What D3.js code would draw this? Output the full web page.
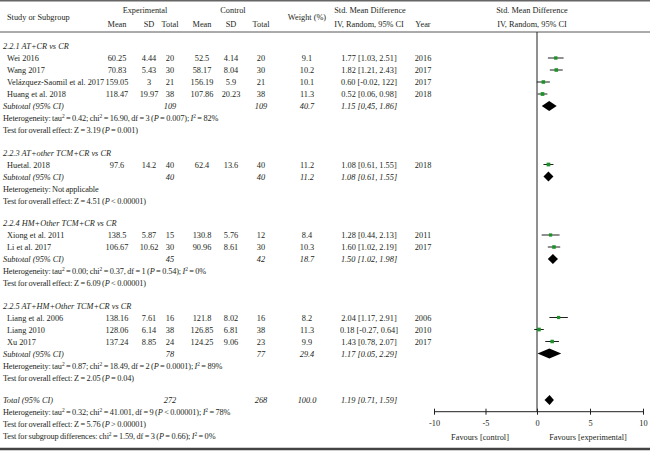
<!DOCTYPE html>
<html>
<head>
<meta charset="utf-8">
<script src="https://cdn.jsdelivr.net/npm/d3@7"></script>
<style>
  body { margin: 0; background: #fff; }
  svg text { font-family: "Liberation Serif", "DejaVu Serif", serif; fill: #231f20; }
</style>
</head>
<body>
<div id="chart"></div>
<script>
// Forest plot - std. mean difference, random effects, four subgroups

// ── Studies ────────────────────────────────────────────────
const studyNames = ["Wei 2016", "Wang 2017", "Velázquez-Saomil et al. 2017", "Huang et al. 2018",
                    "Huetal. 2018",
                    "Xiong et al. 2011", "Li et al. 2017",
                    "Liang et al. 2006", "Liang 2010", "Xu 2017"];
const studyGroup = [0, 0, 0, 0, 1, 2, 2, 3, 3, 3];
const expMean = [60.25, 70.83, 159.05, 118.47, 97.6, 138.5, 106.67, 138.16, 128.06, 137.24];
const expSD   = [4.44, 5.43, 3, 19.97, 14.2, 5.87, 10.62, 7.61, 6.14, 8.85];
const expN    = [20, 30, 21, 38, 40, 15, 30, 16, 38, 24];
const ctlMean = [52.5, 58.17, 156.19, 107.86, 62.4, 130.8, 90.96, 121.8, 126.85, 124.25];
const ctlSD   = [4.14, 8.04, 5.9, 20.23, 13.6, 5.76, 8.61, 8.02, 6.81, 9.06];
const ctlN    = [20, 30, 21, 38, 40, 12, 30, 16, 38, 23];
const weights = [9.1, 10.2, 10.1, 11.3, 11.2, 8.4, 10.3, 8.2, 11.3, 9.9];
const smd     = [1.77, 1.82, 0.60, 0.52, 1.08, 1.28, 1.60, 2.04, 0.18, 1.43];
const ciLo    = [1.03, 1.21, -0.02, 0.06, 0.61, 0.44, 1.02, 1.17, -0.27, 0.78];
const ciHi    = [2.51, 2.43, 1.22, 0.98, 1.55, 2.13, 2.19, 2.91, 0.64, 2.07];
const ciLabels = ["1.77 [1.03, 2.51]", "1.82 [1.21, 2.43]", "0.60 [-0.02, 122]", "0.52 [0.06, 0.98]",
                  "1.08 [0.61, 1.55]",
                  "1.28 [0.44, 2.13]", "1.60 [1.02, 2.19]",
                  "2.04 [1.17, 2.91]", "0.18 [-0.27, 0.64]", "1.43 [0.78, 2.07]"];
const years   = [2016, 2017, 2017, 2018, 2018, 2011, 2017, 2006, 2010, 2017];

// ── Subgroups ──────────────────────────────────────────────
const groupLabels = ["2.2.1 AT+CR vs CR", "2.2.3 AT+other TCM+CR vs CR",
                     "2.2.4 HM+Other TCM+CR vs CR", "2.2.5 AT+HM+Other TCM+CR vs CR"];
const subExpN   = [109, 40, 45, 78];
const subCtlN   = [109, 40, 42, 77];
const subWeight = [40.7, 11.2, 18.7, 29.4];
const subSmd    = [1.15, 1.08, 1.50, 1.17];
const subLo     = [0.45, 0.61, 1.02, 0.05];
const subHi     = [1.86, 1.55, 1.98, 2.29];
const subLabels = ["1.15 [0,45, 1.86]", "1.08 [0.61, 1.55]", "1.50 [1.02, 1.98]", "1.17 [0.05, 2.29]"];
const hetTexts  = ["Heterogeneity: tau^2 = 0.42; chi^2 = 16.90, df = 3 (P = 0.007); I^2 = 82%",
                   "Heterogeneity: Not applicable",
                   "Heterogeneity: tau^2 = 0.00; chi^2 = 0.37, df = 1 (P = 0.54); I^2 = 0%",
                   "Heterogeneity: tau^2 = 0.87; chi^2 = 18.49, df = 2 (P = 0.0001); I^2 = 89%"];
const testTexts = ["Test for overall effect: Z = 3.19 (P = 0.001)",
                   "Test for overall effect: Z = 4.51 (P < 0.00001)",
                   "Test for overall effect: Z = 6.09 (P < 0.00001)",
                   "Test for overall effect: Z = 2.05 (P = 0.04)"];

// ── Overall ────────────────────────────────────────────────
const totalExpN = 272, totalCtlN = 268, totalWeight = 100.0;
const totalSmd = 1.19, totalLo = 0.71, totalHi = 1.59;
const totalLabel = "1.19 [0.71, 1.59]";
const totalTexts = ["Heterogeneity: tau^2 = 0.32; chi^2 = 41.001, df = 9 (P < 0.00001); I^2 = 78%",
                    "Test for overall effect: Z = 5.76 (P > 0.00001)",
                    "Test for subgroup differences: chi^2 = 1.59, df = 3 (P = 0.66); I^2 = 0%"];

const axisTicks = [-10, -5, 0, 5, 10];

const width = 650, height = 451;
const FS = 8.3;
const col = { name: 7, stat: 3, expMean: 117, expSD: 149, expN: 170, ctlMean: 202, ctlSD: 231,
              ctlN: 261, weight: 307, ci: 369, year: 423 };

const svg = d3.select("#chart").append("svg")
  .attr("width", width).attr("height", height);

const x = d3.scaleLinear().domain([-10, 0, 10]).range([434, 537, 643]);

// text helper; rich=true turns ^2 into superscript and P / I into italics
function txt(xp, yp, s, opts = {}) {
  const t = svg.append("text")
    .attr("x", xp).attr("y", yp + 3)
    .attr("text-anchor", opts.anchor || "start")
    .style("font-size", FS + "px")
    .style("font-style", opts.italic ? "italic" : "normal");
  if (!opts.rich) { t.text(s); return t; }
  // stats lines are set a little tighter in the original
  t.style("word-spacing", "-0.45px").style("letter-spacing", "-0.12px");
  const parts = s.split(/(\^2|(?<![A-Za-z])[PI](?![A-Za-z]))/).filter(p => p !== "");
  let raised = false;
  parts.forEach(p => {
    const ts = t.append("tspan");
    if (p === "^2") {
      ts.text("2").attr("dy", -3).style("font-size", (FS * 0.65) + "px");
      raised = true;
      return;
    }
    if (raised) { ts.attr("dy", 3); raised = false; }
    if (p === "P" || p === "I") ts.style("font-style", "italic");
    ts.text(p);
  });
  return t;
}

// ── Header ─────────────────────────────────────────────────
svg.append("line").attr("x1", 0).attr("x2", width).attr("y1", 0.8).attr("y2", 0.8)
  .attr("stroke", "#666").attr("stroke-width", 1.6);
svg.append("line").attr("x1", 0).attr("x2", width).attr("y1", 32).attr("y2", 32)
  .attr("stroke", "#444").attr("stroke-width", 0.9);
svg.append("line").attr("x1", 0).attr("x2", width).attr("y1", 449).attr("y2", 449)
  .attr("stroke", "#444").attr("stroke-width", 2.4);

txt(col.name, 17, "Study or Subgroup");
txt(145, 10, "Experimental", { anchor: "middle" });
txt(233, 10, "Control", { anchor: "middle" });
[["Mean", col.expMean], ["SD", col.expSD], ["Total", col.expN],
 ["Mean", col.ctlMean], ["SD", col.ctlSD], ["Total", col.ctlN]]
  .forEach(([s, cx]) => txt(cx, 24, s, { anchor: "middle" }));
txt(col.weight, 17, "Weight (%)", { anchor: "middle" });
txt(370, 9.5, "Std. Mean Difference", { anchor: "middle" });
txt(369, 24, "IV, Random, 95% CI", { anchor: "middle" });
txt(col.year, 24, "Year", { anchor: "middle" });
txt(532, 9.5, "Std. Mean Difference", { anchor: "middle" });
txt(532, 24, "IV, Random, 95% CI", { anchor: "middle" });

// ── Rows ───────────────────────────────────────────────────
const step = 12, gap = 10.5;
let y = 46;

const zeroLine = svg.append("line")
  .attr("x1", x(0)).attr("x2", x(0)).attr("y1", 32)
  .attr("stroke", "#231f20").attr("stroke-width", 1);

function diamond(cy, est, lo, hi) {
  const h = 5;
  svg.append("path")
    .attr("d", `M${x(lo)},${cy} L${x(est)},${cy - h} L${x(hi)},${cy} L${x(est)},${cy + h} Z`)
    .attr("fill", "#000");
}

groupLabels.forEach((g, gi) => {
  txt(col.stat, y, g, { italic: true });
  y += step;
  studyNames.forEach((name, i) => {
    if (studyGroup[i] !== gi) return;
    txt(col.name, y, name);
    txt(col.expMean, y, String(expMean[i]), { anchor: "middle" });
    txt(col.expSD, y, String(expSD[i]), { anchor: "middle" });
    txt(col.expN, y, String(expN[i]), { anchor: "middle" });
    txt(col.ctlMean, y, String(ctlMean[i]), { anchor: "middle" });
    txt(col.ctlSD, y, String(ctlSD[i]), { anchor: "middle" });
    txt(col.ctlN, y, String(ctlN[i]), { anchor: "middle" });
    txt(col.weight, y, weights[i].toFixed(1), { anchor: "middle" });
    txt(col.ci, y, ciLabels[i], { anchor: "middle" });
    txt(col.year, y, String(years[i]), { anchor: "middle" });

    svg.append("line")
      .attr("x1", x(ciLo[i])).attr("x2", x(ciHi[i]))
      .attr("y1", y).attr("y2", y)
      .attr("stroke", "#231f20").attr("stroke-width", 1);
    const s = 1.8 + weights[i] * 0.17;
    svg.append("rect")
      .attr("x", x(smd[i]) - s / 2).attr("y", y - s / 2)
      .attr("width", s).attr("height", s)
      .attr("fill", "#1a9227");
    y += step;
  });
  txt(col.stat, y, "Subtotal (95% CI)", { italic: true });
  txt(col.expN, y, String(subExpN[gi]), { anchor: "middle", italic: true });
  txt(col.ctlN, y, String(subCtlN[gi]), { anchor: "middle", italic: true });
  txt(col.weight, y, subWeight[gi].toFixed(1), { anchor: "middle", italic: true });
  txt(col.ci, y, subLabels[gi], { anchor: "middle", italic: true });
  diamond(y, subSmd[gi], subLo[gi], subHi[gi]);
  y += step;
  txt(col.stat, y, hetTexts[gi], { rich: true });
  y += step;
  txt(col.stat, y, testTexts[gi], { rich: true });
  y += step + gap;
});

// ── Overall ────────────────────────────────────────────────
txt(col.stat, y, "Total (95% CI)", { italic: true });
txt(col.expN, y, String(totalExpN), { anchor: "middle", italic: true });
txt(col.ctlN, y, String(totalCtlN), { anchor: "middle", italic: true });
txt(col.weight, y, totalWeight.toFixed(1), { anchor: "middle", italic: true });
txt(col.ci, y, totalLabel, { anchor: "middle", italic: true });
diamond(y, totalSmd, totalLo, totalHi);
totalTexts.forEach(t => { y += step; txt(col.stat, y, t, { rich: true }); });

// ── Axis ───────────────────────────────────────────────────
const axisY = 411.7;
zeroLine.attr("y2", axisY);

const axisG = svg.append("g")
  .attr("transform", `translate(0,${axisY})`)
  .call(d3.axisBottom(x).tickValues(axisTicks).tickSize(3).tickPadding(5)
          .tickFormat(d3.format("d")));
axisG.select(".domain").attr("stroke", "#231f20").attr("d", `M${x(-10)},0H${x(10)}`);
axisG.selectAll(".tick line").attr("y1", -3).attr("y2", 3).attr("stroke", "#231f20");
axisG.selectAll(".tick text")
  .style("font-family", '"Liberation Serif", serif')
  .style("font-size", FS + "px")
  .attr("fill", "#231f20")
  .text(d => d < 0 ? "-" + Math.abs(d) : d);

txt(480, 436.5, "Favours [control]", { anchor: "middle" });
txt(588, 436.5, "Favours [experimental]", { anchor: "middle" });
</script>
</body>
</html>
